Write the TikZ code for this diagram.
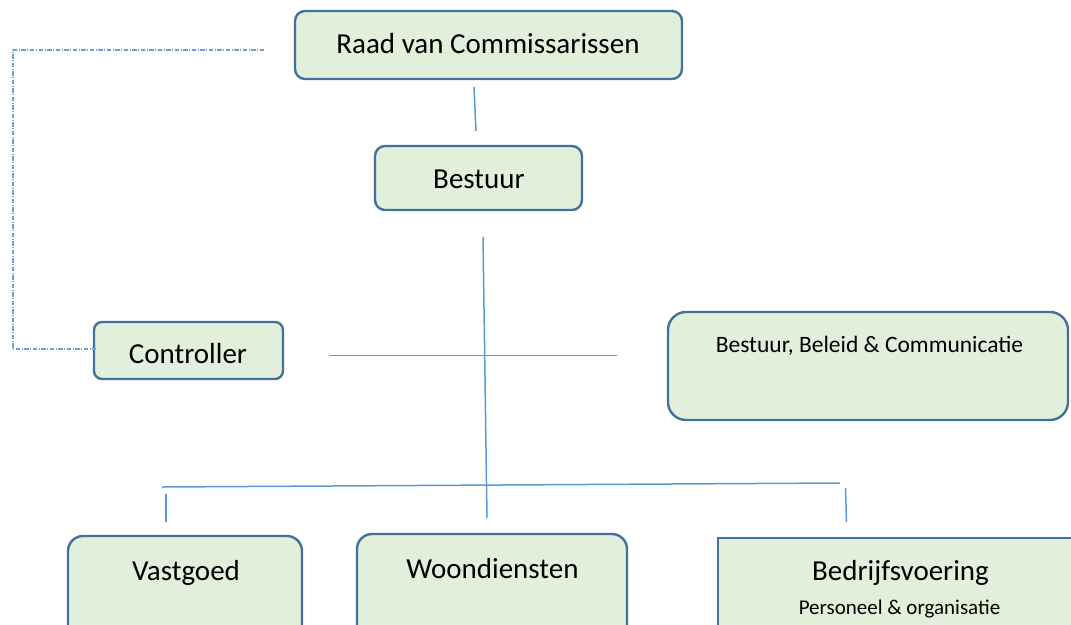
\documentclass[tikz,border=0pt]{standalone}
\usepackage{fontspec}
\setmainfont{Carlito}
\definecolor{boxfill}{RGB}{226,239,218}
\definecolor{boxline}{RGB}{65,113,156}
\definecolor{conn}{RGB}{91,155,213}
\definecolor{dashc}{RGB}{110,160,215}
\begin{document}
\begin{tikzpicture}[x=1pt,y=-1pt,
  box/.style={draw=boxline,fill=boxfill,line width=2.4pt,rounded corners=#1,inner sep=0pt},
  box/.default=10pt,
  txt/.style={anchor=base,inner sep=0pt,text=black,font=\fontsize{29}{34}\selectfont},
  stxt/.style={anchor=base,inner sep=0pt,text=black,font=\fontsize{23.5}{28}\selectfont},
  ptxt/.style={anchor=base,inner sep=0pt,text=black,font=\fontsize{21}{25}\selectfont},
  conline/.style={draw=conn,line width=1.5pt},
  dashline/.style={draw=dashc,line width=1.2pt,dash pattern=on 4.5pt off 1.5pt on 1pt off 1.5pt}]
\useasboundingbox (0,0) rectangle (1071,624);
\clip (0,0) rectangle (1071,624);
% boxes
\path[box] (295,11) rectangle (682,79);
\node[inner sep=0pt] (raad) at (488.5,45) {};
\path[box] (375,146) rectangle (582,210);
\node[inner sep=0pt] (bestuur) at (478.5,178) {};
\path[box=8pt] (94,322) rectangle (283,379);
\node[inner sep=0pt] (contr) at (188.5,350.5) {};
\path[box=18pt] (668,312) rectangle (1068,420);
\node[inner sep=0pt] (bbc) at (868,366) {};
\path[box=15pt] (68,536) rectangle (302,660);
\node[inner sep=0pt] (vast) at (185,598) {};
\path[box=15pt] (357,534) rectangle (627,660);
\node[inner sep=0pt] (woon) at (492,597) {};
\path[box=0pt] (718,538) rectangle (1090,660);
\node[inner sep=0pt] (bedr) at (904,599) {};
% texts
\node[txt] (raadT) at (488,53) {Raad van Commissarissen};
\node[txt] (bestuurT) at (479,188) {Bestuur};
\node[txt] (contrT) at (188,363) {Controller};
\node[stxt] (bbcT) at (869.5,352) {Bestuur, Beleid \& Communicatie};
\node[txt] (vastT) at (186,580) {Vastgoed};
\node[txt] (woonT) at (492.5,578) {Woondiensten};
\node[txt] (bedrT) at (900.5,580) {Bedrijfsvoering};
\node[ptxt] (persT) at (899.5,614) {Personeel \& organisatie};
% connector coordinates
\coordinate (a1) at (474,87);
\coordinate (a2) at (476,131);
\coordinate (m1) at (483,237);
\coordinate (m2) at (487,518);
\coordinate (h1) at (329,355.5);
\coordinate (h2) at (617,355.5);
\coordinate (b1) at (162,487);
\coordinate (b2) at (840,483);
\coordinate (v1) at (166,494);
\coordinate (v2) at (166,522);
\coordinate (r1) at (845.5,488);
\coordinate (r2) at (846.5,522);
\coordinate (d1) at (264,50);
\coordinate (d2) at (13,50);
\coordinate (d3) at (13,349);
\coordinate (d4) at (96,349);
\draw[conline] (a1) -- (a2);
\draw[conline] (m1) -- (m2);
\draw[conline] (h1) -- (h2);
\draw[conline] (b1) -- (b2);
\draw[conline] (v1) -- (v2);
\draw[conline] (r1) -- (r2);
\draw[dashline] (d1) -- (d2) -- (d3) -- (d4);
\end{tikzpicture}
\end{document}
